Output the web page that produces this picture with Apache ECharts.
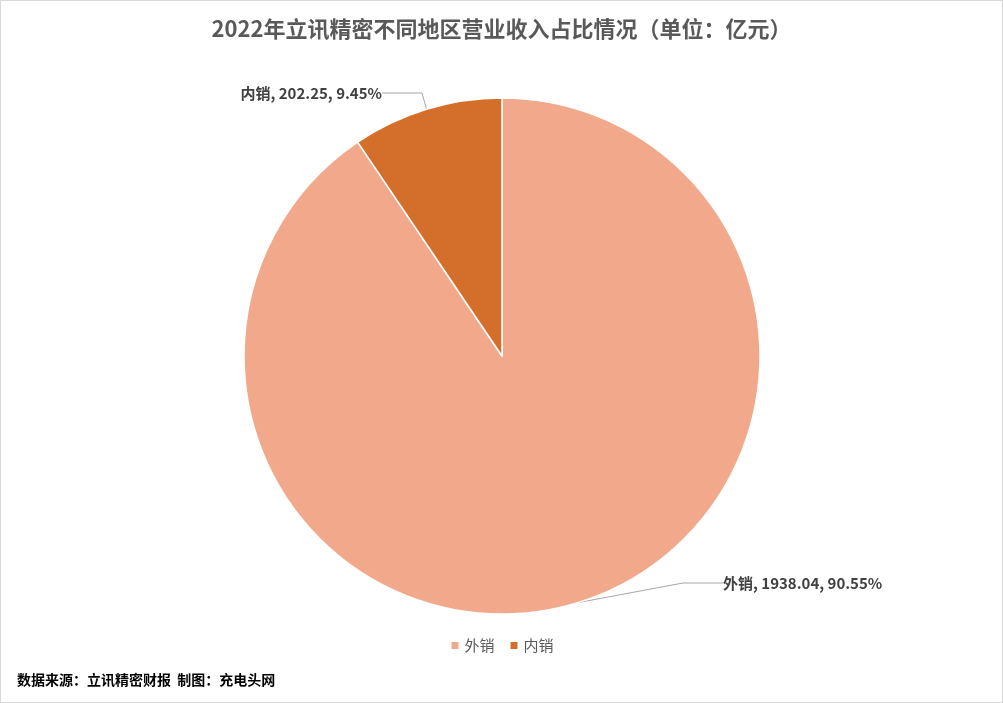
<!DOCTYPE html>
<html><head><meta charset="utf-8">
<script src="https://cdn.jsdelivr.net/npm/echarts@6/dist/echarts.min.js"></script>
<style>html,body{margin:0;padding:0;background:#fff}#c{width:1003px;height:703px;box-sizing:border-box;border:1px solid #d9d9d9}</style>
</head><body><div id="c"></div>
<script>
const categories = ['外销', '内销'];
const values = [1938.04, 202.25];
const percents = ['90.55%', '9.45%'];
const colors = ['#F2A98B', '#D46E2B'];
const chart = echarts.init(document.getElementById('c'));
const F = '"Microsoft YaHei","Noto Sans CJK SC",sans-serif';
chart.setOption({
  animation: false,
  title: {text: '2022年立讯精密不同地区营业收入占比情况（单位：亿元）', left: 'center', top: 12,
    textStyle: {fontFamily: F, fontSize: 22, fontWeight: 'bold', color: '#595959'}},
  legend: {bottom: 44, left: 'center', itemWidth: 9, itemHeight: 9, icon: 'rect', itemGap: 14,
    textStyle: {fontFamily: F, fontSize: 15, color: '#595959'}},
  graphic: [{type: 'text', left: 16, top: 672, style: {text: '数据来源：立讯精密财报  制图：充电头网',
    font: 'bold 14px ' + F, fill: '#000'}}],
  series: [{
    type: 'pie', center: [501, 355], radius: 258, startAngle: 90, clockwise: true,
    itemStyle: {borderColor: '#fff', borderWidth: 1.5},
    data: categories.map((c, i) => ({name: c, value: values[i], itemStyle: {color: colors[i]},
      label: {formatter: c + ', ' + values[i] + ', ' + percents[i]}})),
    label: {fontFamily: F, fontSize: 15, fontWeight: 'bold', color: '#404040'},
    labelLine: {lineStyle: {color: '#a6a6a6', width: 1}, length: 20, length2: 40},
    labelLayout: function (p) {
      return p.dataIndex === 0 ? {x: 722, y: 582, align: 'left', verticalAlign: 'middle'}
                               : {x: 381, y: 92, align: 'right', verticalAlign: 'middle'};
    }
  }]
});
</script></body></html>
